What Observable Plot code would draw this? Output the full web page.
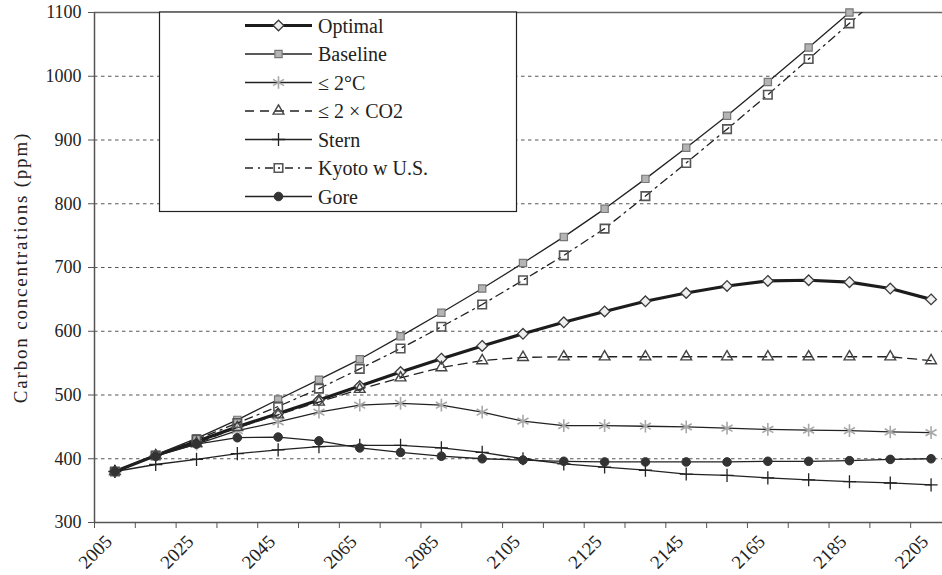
<!DOCTYPE html>
<html>
<head>
<meta charset="utf-8">
<script src="https://cdn.jsdelivr.net/npm/d3@7"></script>
<script src="https://cdn.jsdelivr.net/npm/@observablehq/plot@0.6"></script>
<style>
  html, body { margin: 0; padding: 0; background: #fff; }
  #wrap { position: relative; width: 942px; height: 575px; overflow: hidden; }
  #legend { position: absolute; left: 0; top: 0; pointer-events: none; }
</style>
</head>
<body>
<div id="wrap"></div>
<script>
// ---- data ----
const years = [2005, 2015, 2025, 2035, 2045, 2055, 2065, 2075, 2085, 2095, 2105,
               2115, 2125, 2135, 2145, 2155, 2165, 2175, 2185, 2195, 2205];
const optimal  = [380, 405, 427, 450, 471, 492, 514, 536, 557, 577, 596, 614, 631, 647, 660, 671, 679, 680, 677, 667, 650];
const baseline = [380, 406, 432, 461, 493, 524, 556, 592, 629, 667, 707, 748, 792, 839, 888, 938, 991, 1045, 1100, 1158, 1218];
const twoC     = [380, 405, 423, 444, 458, 473, 484, 487, 484, 473, 459, 452, 452, 451, 450, 448, 446, 445, 444, 442, 441];
const twoCO2   = [380, 405, 424, 449, 469, 489, 509, 527, 543, 554, 559, 560, 560, 560, 560, 560, 560, 560, 560, 560, 554];
const stern    = [380, 391, 399, 408, 414, 419, 421, 421, 417, 410, 400, 392, 387, 382, 376, 374, 370, 367, 364, 362, 359];
const kyoto    = [380, 405, 430, 456, 482, 510, 541, 573, 607, 642, 680, 719, 761, 812, 864, 917, 971, 1027, 1083, 1140, 1197];
const gore     = [380, 404, 423, 433, 434, 428, 417, 410, 404, 400, 398, 396, 395, 395, 395, 395, 396, 396, 397, 399, 400];

const seriesNames = ["Optimal", "Baseline", "\u2264 2\u00B0C", "\u2264 2 \u00D7 CO2", "Stern", "Kyoto w U.S.", "Gore"];
const seriesValues = [optimal, baseline, twoC, twoCO2, stern, kyoto, gore];

const xLabelYears = [2005, 2025, 2045, 2065, 2085, 2105, 2125, 2145, 2165, 2185, 2205];
const xBoundaries = d3.range(2000, 2201, 10);
const yTicks = [300, 400, 500, 600, 700, 800, 900, 1000, 1100];
const yGrid = [400, 500, 600, 700, 800, 900, 1000];
const yTitle = "Carbon concentrations (ppm)";

// ---- styles (per series) ----
const styles = {
  "Optimal":      {stroke: "#1c1c1c", width: 3.2, dash: null,        symbol: "diamond2", r: 4.8, fill: "#efefef", mstroke: "#3a3a3a", mwidth: 1.3},
  "Baseline":     {stroke: "#222",    width: 1.3, dash: null,        symbol: "square",   r: 4.1, fill: "#b4b4b4", mstroke: "#777",    mwidth: 1.2},
  "\u2264 2\u00B0C": {stroke: "#222", width: 1.3, dash: null,        symbol: "asterisk", r: 6.0, fill: "none",    mstroke: "#a8a8a8", mwidth: 1.6},
  "\u2264 2 \u00D7 CO2": {stroke: "#222", width: 1.3, dash: "9,6",   symbol: "triangle", r: 4.0, fill: "none",    mstroke: "#444",    mwidth: 1.4},
  "Stern":        {stroke: "#222",    width: 1.3, dash: null,        symbol: "plus",     r: 4.3, fill: "none",    mstroke: "#222",    mwidth: 1.3},
  "Kyoto w U.S.": {stroke: "#222",    width: 1.3, dash: "8,5,2,5",   symbol: "square",   r: 4.8, fill: "none",    mstroke: "#555",    mwidth: 1.6},
  "Gore":         {stroke: "#222",    width: 1.3, dash: null,        symbol: "circle",   r: 4.3, fill: "#333",    mstroke: "#333",    mwidth: 1}
};

const fontStack = "'Liberation Serif', 'Times New Roman', Tinos, 'DejaVu Serif', serif";

const rows = [];
seriesNames.forEach((name, si) => {
  seriesValues[si].forEach((v, i) => rows.push({series: name, year: years[i], value: v}));
});

const seriesMarks = [];
seriesNames.forEach(name => {
  const s = styles[name];
  const data = rows.filter(d => d.series === name);
  seriesMarks.push(Plot.line(data, {
    x: "year", y: "value", stroke: s.stroke, strokeWidth: s.width,
    strokeDasharray: s.dash || undefined, clip: true
  }));
  seriesMarks.push(Plot.dot(data.filter(d => d.value <= 1100), {
    x: "year", y: "value", symbol: s.symbol, r: s.r, fill: s.fill,
    stroke: s.mstroke, strokeWidth: s.mwidth
  }));
});

const chart = Plot.plot({
  width: 942,
  height: 575,
  marginLeft: 94,
  marginRight: 0,
  marginTop: 12,
  marginBottom: 53,
  style: {fontFamily: fontStack, fontSize: "18px", color: "#222", background: "#fff"},
  x: {type: "linear", domain: [2000, 2207.8]},
  y: {type: "linear", domain: [300, 1100]},
  marks: [
    Plot.ruleY(yGrid, {stroke: "#555", strokeWidth: 1, strokeDasharray: "3.5,3.5"}),
    Plot.ruleY([1100], {stroke: "#666", strokeWidth: 1.5}),
    ...seriesMarks,
    Plot.ruleX([2000], {stroke: "#555", strokeWidth: 1.5}),
    Plot.ruleY([300], {stroke: "#555", strokeWidth: 1.5}),
    Plot.axisY({ticks: yTicks, tickSize: 6, tickPadding: 7, tickFormat: d => String(d),
      label: yTitle, labelAnchor: "center", labelArrow: "none", labelOffset: 81, stroke: "#555"}),
    Plot.axisX({ticks: xBoundaries, tickSize: 6, tickFormat: () => "", label: null, stroke: "#555"}),
    Plot.axisX({ticks: xLabelYears, tickSize: 0, tickPadding: 16, tickRotate: -45, dx: -6,
      fontSize: 19, tickFormat: d => String(d), label: null})
  ]
});

const wrap = document.getElementById("wrap");
wrap.appendChild(chart);

// y title styling
d3.select(chart).selectAll("g[aria-label='y-axis label'] text")
  .style("font-size", "19px").style("letter-spacing", "1.8px");

// ---- legend (overlay) ----
const symbolMap = {
  diamond2: d3.symbolDiamond2, square: d3.symbolSquare, asterisk: d3.symbolAsterisk,
  triangle: d3.symbolTriangle, plus: d3.symbolPlus, circle: d3.symbolCircle
};
const lg = d3.select(wrap).append("svg").attr("id", "legend")
  .attr("width", 942).attr("height", 575);
const box = {x0: 159.5, y0: 12, x1: 516.5, y1: 211.5};
lg.append("rect").attr("x", box.x0).attr("y", box.y0)
  .attr("width", box.x1 - box.x0).attr("height", box.y1 - box.y0)
  .attr("fill", "#fff").attr("stroke", "#222").attr("stroke-width", 1.2);
const rowY0 = 25.5, rowStep = 28.5;
seriesNames.forEach((name, i) => {
  const s = styles[name];
  const y = rowY0 + i * rowStep;
  lg.append("line").attr("x1", 245).attr("x2", 312).attr("y1", y).attr("y2", y)
    .attr("stroke", s.stroke).attr("stroke-width", s.width)
    .attr("stroke-dasharray", s.dash || null);
  lg.append("path")
    .attr("d", d3.symbol(symbolMap[s.symbol], Math.PI * s.r * s.r)())
    .attr("transform", `translate(278.5,${y})`)
    .attr("fill", s.fill).attr("stroke", s.mstroke).attr("stroke-width", s.mwidth);
  lg.append("text").attr("x", 318).attr("y", y).attr("dy", "0.35em")
    .style("font-family", fontStack).style("font-size", "20px")
    .attr("fill", "#222").text(name);
});
</script>
</body>
</html>
